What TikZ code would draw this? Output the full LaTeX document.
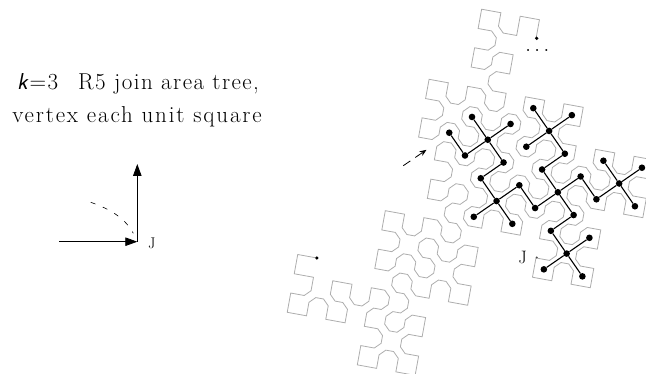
\documentclass[tikz,border=0pt]{standalone}
\usepackage{fontspec}
\usetikzlibrary{arrows.meta}
\newfontfamily\lineonefont{Latin Modern Roman}[LetterSpace=6.2]
\newfontfamily\linetwofont{Latin Modern Roman}[LetterSpace=8]
\newfontfamily\ksl{Latin Modern Sans}[FakeSlant=0.2]
\newcount\lx \newcount\ly \newcount\ldir \newcount\ln \newcount\lm \newcount\ldig
\def\ldx#1{\ifcase#1 1\or 0\or -1\or 0\fi}
\def\ldy#1{\ifcase#1 0\or 1\or 0\or -1\fi}
\def\setcs#1#2{\expandafter\xdef\csname#1\endcsname{#2}}
\def\getcs#1{\csname#1\endcsname}
\def\markv#1#2{\expandafter\ifx\csname V:#1:#2\endcsname\relax
  \expandafter\gdef\csname V:#1:#2\endcsname{1}\else
  \expandafter\gdef\csname V:#1:#2\endcsname{2}\fi}
\def\getdigit{\ldig=\lm \divide\ldig by 5 \multiply\ldig by -5 \advance\ldig by \lm
  \ifnum\ldig=0 \divide\lm by 5 \expandafter\getdigit\fi}
% walk the R5 dragon, k=3, both arms
\lx=0 \ly=0 \ldir=0 \ln=0
\loop
  \setcs{XA\the\ln}{\the\lx}
  \setcs{YA\the\ln}{\the\ly}
  \setcs{DA\the\ln}{\the\ldir}
  \setcs{XB\the\ln}{\the\numexpr\ly-9\relax}
  \setcs{YB\the\ln}{\the\numexpr-\lx-13\relax}
  \setcs{DB\the\ln}{\ifcase\ldir 3\or 0\or 1\or 2\fi}
  \markv{\the\lx}{\the\ly}
  \markv{\the\numexpr\ly-9\relax}{\the\numexpr-\lx-13\relax}
\ifnum\ln<125
  \advance\lx by \ldx{\ldir}\relax
  \advance\ly by \ldy{\ldir}\relax
  \advance\ln by 1
  \lm=\ln \getdigit
  \ifnum\ldig<3 \advance\ldir by 1 \else \advance\ldir by 3 \fi
  \ifnum\ldir>3 \advance\ldir by -4 \fi
\repeat
\def\cham{30}
\def\buildpath#1{%
  \xdef\curpath{(\number\numexpr100*\getcs{X#10}\relax,\number\numexpr100*\getcs{Y#10}\relax)}%
  \ln=1
  \loop
    \edef\vx{\getcs{X#1\the\ln}}\edef\vy{\getcs{Y#1\the\ln}}%
    \edef\dinn{\getcs{D#1\the\numexpr\ln-1\relax}}\edef\dout{\getcs{D#1\the\ln}}%
    \ifnum\getcs{V:\vx:\vy}>1
      \xdef\curpath{\curpath -- (\number\numexpr100*\vx-\cham*\ldx{\dinn}\relax,\number\numexpr100*\vy-\cham*\ldy{\dinn}\relax)
        -- (\number\numexpr100*\vx+\cham*\ldx{\dout}\relax,\number\numexpr100*\vy+\cham*\ldy{\dout}\relax)}%
    \else
      \xdef\curpath{\curpath -- (\number\numexpr100*\vx\relax,\number\numexpr100*\vy\relax)}%
    \fi
  \ifnum\ln<124 \advance\ln by 1 \repeat
  \xdef\curpath{\curpath -- (\number\numexpr100*\getcs{X#1125}\relax,\number\numexpr100*\getcs{Y#1125}\relax)}%
  \expandafter\global\expandafter\let\csname path#1\endcsname\curpath}
\buildpath{A}
\buildpath{B}
\tikzset{
  curve/.style={draw=black!32,line width=0.8pt,line join=miter},
  treedot/.style={circle,fill=black,inner sep=0pt,minimum size=6.6pt},
  treeline/.style={line width=1.1pt,black},
  enddot/.style={circle,fill=black,inner sep=0pt,minimum size=3.6pt},
  jdot/.style={circle,fill=black!70,inner sep=0pt,minimum size=2.2pt},
  axis/.style={line width=0.8pt,-{Triangle[length=12pt,width=8.5pt]}},
  lbl/.style={font=\fontsize{23}{32}\selectfont,anchor=base,inner sep=0pt},
  jlabel/.style={inner sep=0pt}
}
\begin{document}
\begin{tikzpicture}[x=1pt,y=-1pt]
\useasboundingbox (0,0) rectangle (646,374);
\node[lbl] (title) at (138,90) {{\ksl k}\kern2pt{\lineonefont =3}\hspace{0.87em}{\lineonefont R5 join area tree,}};
\node[lbl] (titleb) at (137,122.3) {\linetwofont vertex each unit square};
\coordinate (hs) at (59.3,241.7);
\coordinate (J0) at (137.3,241.7);
\coordinate (vt) at (137.3,164);
\draw[axis] (hs) -- (J0);
\draw[axis] (J0) -- (vt);
\coordinate (ds) at (90.7,202.3);
\coordinate (de) at (133.3,233.3);
\draw[line width=0.6pt,dash pattern=on 5pt off 8pt] (ds) .. controls (110,209) and (125,218) .. (de);
\node[jlabel,font=\fontsize{15.5}{16}\selectfont] (jl) at (151.7,243) {J};
\begin{scope}[shift={(317,258)},x={(-0.1927pt,0.035pt)},y={(-0.035pt,-0.1927pt)}]
\draw[curve] \pathA;
\draw[curve] \pathB;
\foreach \i/\j in {0/0,1/0,-1/0,0/1,0/-1,1/-1,1/-2,1/-3,2/-2,0/-2,1/1,2/1,2/0,3/1,2/2,-1/1,-1/2,0/2,-1/3,-2/2,-1/-1,-2/-1,-3/-1,-2/0,-2/-2,-1/-2,-1/-3,-1/-4,0/-3,-2/-3,-2/-4}
  \node[treedot] (t\i_\j) at ({-1150-100*\i-100*\j},{-550-100*\i+100*\j}) {};
\foreach \a/\b in {0_0/1_0,0_0/-1_0,0_0/0_1,0_0/0_-1,0_-1/1_-1,1_-1/1_-2,1_-2/1_-3,1_-2/2_-2,1_-2/0_-2,1_0/1_1,1_1/2_1,2_1/2_0,2_1/3_1,2_1/2_2,0_1/-1_1,-1_1/-1_2,-1_2/0_2,-1_2/-1_3,-1_2/-2_2,-1_0/-1_-1,-1_-1/-2_-1,-2_-1/-3_-1,-2_-1/-2_0,-2_-1/-2_-2,-2_-2/-1_-2,-1_-2/-1_-3,-1_-3/-1_-4,-1_-3/0_-3,-1_-3/-2_-3,-2_-3/-2_-4}
  \draw[treeline] (t\a) -- (t\b);
\end{scope}
\node[enddot] (sa) at (316.8,258) {};
\node[enddot] (sb) at (536.7,38.3) {};
\node[jdot] (jd) at (536.7,257.5) {};
\node[jlabel,font=\fontsize{18}{19}\selectfont] (j2) at (522.7,257) {J};
\node[inner sep=0pt,font=\fontsize{20}{22}\selectfont] (more) at (537.3,50.5) {$\ldots$};
\coordinate (as) at (403.3,165.7);
\coordinate (ae) at (426.5,149.8);
\draw[line width=0.8pt,dash pattern=on 8.5pt off 6pt,-{Stealth[length=7pt,width=5.5pt]}] (as) -- (ae);
\end{tikzpicture}
\end{document}
